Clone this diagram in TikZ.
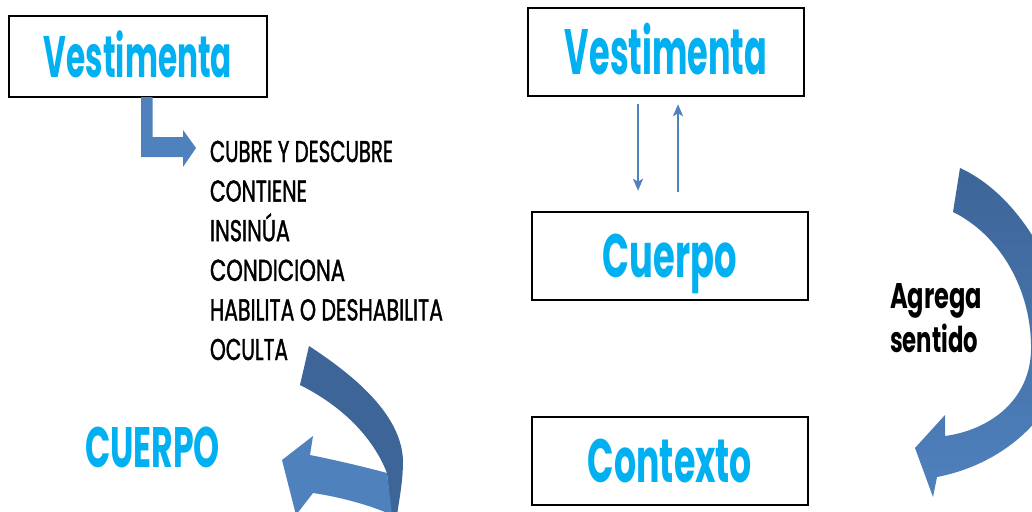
\documentclass[tikz,border=0pt]{standalone}
\usepackage{fontspec}
\setmainfont{Poppins}
\newfontfamily\listfont{Poppins}[FakeBold=1.6]
\usepackage{graphicx}
\usetikzlibrary{arrows.meta}
\definecolor{cyanT}{HTML}{00B0F0}
\definecolor{arrL}{HTML}{4F81BD}
\definecolor{arrD}{HTML}{3D6598}
\newcommand\fittext[3]{\resizebox{#1}{#2}{\vphantom{H}\smash{#3}}}
\tikzset{
  box/.style={draw=black, line width=2.5pt, fill=white, inner sep=0pt,
    minimum width=276pt, minimum height=88pt, text=cyanT, font=\bfseries},
  plain/.style={inner sep=0pt, outer sep=0pt},
  thinarrow/.style={draw=arrL, line width=2.2pt, -{Stealth[length=12pt,width=10pt,inset=3pt]}},
  blockarrow/.style={fill=arrL, draw=none}
}
\begin{document}
\begin{tikzpicture}[x=1pt,y=-1pt]
\useasboundingbox (0,0) rectangle (1032,511);
\fill[white] (0,0) rectangle (1032,511);
\begin{scope}
\clip (0,0) rectangle (1032,511);
% left side
\node[box, minimum width=258pt, minimum height=81pt] (vest1) at (138,56.5) {\fittext{188pt}{41pt}{Vestimenta}};
\fill[blockarrow] (141,97) -- (152.5,97) -- (152.5,137) -- (183,137) -- (183,130)
  -- (196,148) -- (183,167) -- (183,157) -- (141,157) -- cycle;
\node[plain, anchor=north west, align=left, font=\listfont\fontsize{20pt}{39.6pt}\selectfont] (list) at (210,141)
  {\fittext{183pt}{21pt}{CUBRE Y DESCUBRE}\\
   \fittext{97pt}{21pt}{CONTIENE}\\
   \fittext{80pt}{21pt}{INSIN\'UA}\\
   \fittext{135pt}{21pt}{CONDICIONA}\\
   \fittext{233pt}{21pt}{HABILITA O DESHABILITA}\\
   \fittext{78pt}{21pt}{OCULTA}};
\node[plain, anchor=south west, text=cyanT, font=\bfseries] (cuerpo1) at (85,467) {\fittext{135pt}{40pt}{CUERPO}};
% left curved arrow: back face
\fill[arrD] (309,346) .. controls (358,378) and (401,416) .. (403,460)
  .. controls (403,480) and (400,495) .. (397,515) -- (391,515) -- (387,473)
  .. controls (372,435) and (340,405) .. (300,385) -- cycle;
% left curved arrow: front face with head
\fill[arrL] (387,473) -- (392,515) .. controls (370,505) and (340,497) .. (313,493)
  -- (296,515) -- (282,460) -- (313,436) -- (310,455)
  .. controls (335,460) and (365,467) .. (387,473) -- cycle;
% right side
\node[box] (vest2) at (666,52) {\fittext{202pt}{45pt}{Vestimenta}};
\node[box] (cuerpo2) at (670,256) {\fittext{134pt}{43pt}{Cuerpo}};
\node[box] (contexto) at (670,461) {\fittext{164pt}{43pt}{Contexto}};
\coordinate (xd) at (638,0);
\coordinate (xu) at (678,0);
\draw[thinarrow, shorten <=7pt, shorten >=20pt] (vest2.south -| xd) -- (cuerpo2.north -| xd);
\draw[thinarrow, shorten <=19pt, shorten >=7pt] (cuerpo2.north -| xu) -- (vest2.south -| xu);
% right curved arrow
\shade[top color=arrD, middle color=arrD, bottom color=arrL, draw=none]
  (960,168) .. controls (1030,200) and (1075,300) .. (1065,360)
  .. controls (1055,420) and (1000,465) .. (937,477)
  -- (933,497) -- (915,448) -- (945,415) -- (945,436)
  .. controls (990,430) and (1030,400) .. (1031,350)
  .. controls (1032,290) and (1000,235) .. (953,212) -- cycle;
\node[plain, anchor=north west, align=left, font=\bfseries\fontsize{20pt}{44pt}\selectfont] (agrega) at (890,283)
  {\fittext{92pt}{25pt}{Agrega}\\ \fittext{88pt}{25pt}{sentido}};
\end{scope}
\end{tikzpicture}
\end{document}
